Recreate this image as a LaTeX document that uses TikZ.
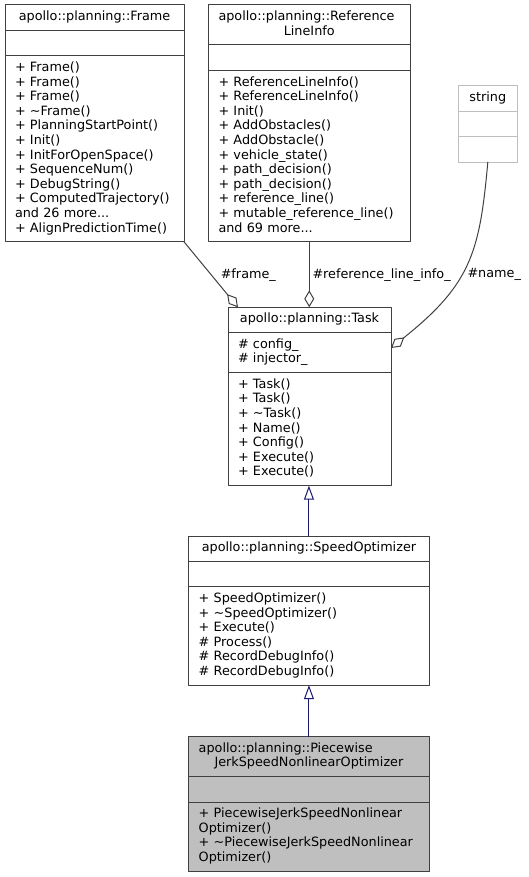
\documentclass[tikz,border=0pt]{standalone}
\usepackage{fontspec}
\setmainfont{DejaVu Sans}
\usetikzlibrary{arrows.meta}
\definecolor{edgegray}{HTML}{404040}
\definecolor{navy}{HTML}{191970}
\definecolor{leafgray}{HTML}{BFBFBF}
\newcommand{\wrapline}[1]{\makebox[\linewidth][l]{#1}}
\begin{document}
\begin{tikzpicture}[line cap=round,line join=round,x=1pt,y=-1pt,
	every node/.style={font=\fontsize{12.8}{14.6}\selectfont},
	cls/.style={draw=edgegray,line width=1pt,fill=white,anchor=north west,outer sep=0pt,
		inner xsep=10pt,inner ysep=0pt,align=left,
		execute at begin node=\strut,execute at end node=\strut},
	ttl/.style={cls,align=center},
	lbl/.style={inner sep=0pt},
	agg/.style={draw=edgegray,line width=1pt,-{Diamond[open,length=17pt,width=10pt]}},
	inh/.style={draw=navy,line width=1pt,-{Triangle[open,length=14pt,width=10pt]}}]
		\useasboundingbox (0,0) rectangle (529,877);
		% Frame
		\node[ttl,text width=159pt,minimum height=25.4pt] (frame) at (5,5) {apollo::planning::Frame};
		\node[cls,text width=159pt,minimum height=25.4pt] (frame-a) at (frame.south west) {};
		\node[cls,text width=159pt,minimum height=186pt] (frame-m) at (frame-a.south west) {+ Frame()\\+ Frame()\\+ Frame()\\+ \textasciitilde Frame()\\+ PlanningStartPoint()\\+ Init()\\+ InitForOpenSpace()\\+ SequenceNum()\\+ DebugString()\\+ ComputedTrajectory()\\and 26 more...\\+ AlignPredictionTime()};
		% ReferenceLineInfo
		\node[ttl,text width=181.5pt,minimum height=40pt] (rli) at (208.5,5) {\wrapline{apollo::planning::Reference}\\LineInfo};
		\node[cls,text width=181.5pt,minimum height=25.4pt] (rli-a) at (rli.south west) {};
		\node[cls,text width=181.5pt,minimum height=171.4pt] (rli-m) at (rli-a.south west) {+ ReferenceLineInfo()\\+ ReferenceLineInfo()\\+ Init()\\+ AddObstacles()\\+ AddObstacle()\\+ vehicle\_state()\\+ path\_decision()\\+ path\_decision()\\+ reference\_line()\\+ mutable\_reference\_line()\\and 69 more...};
		% string
		\node[ttl,draw=leafgray,text width=39pt,minimum height=25.4pt] (str) at (458.3,86) {string};
		\node[cls,draw=leafgray,text width=39pt,minimum height=25.4pt] (str-a) at (str.south west) {};
		\node[cls,draw=leafgray,text width=39pt,minimum height=25.4pt] (str-m) at (str-a.south west) {};
		% Task
		\node[ttl,text width=143pt,minimum height=25.4pt] (task) at (228,307.3) {apollo::planning::Task};
		\node[cls,text width=143pt,minimum height=40pt] (task-a) at (task.south west) {\# config\_\\\# injector\_};
		\node[cls,text width=143pt,minimum height=113pt] (task-m) at (task-a.south west) {+ Task()\\+ Task()\\+ \textasciitilde Task()\\+ Name()\\+ Config()\\+ Execute()\\+ Execute()};
		% SpeedOptimizer
		\node[ttl,text width=220.5pt,minimum height=25.4pt] (spd) at (188.7,536) {apollo::planning::SpeedOptimizer};
		\node[cls,text width=220.5pt,minimum height=25.4pt] (spd-a) at (spd.south west) {};
		\node[cls,text width=220.5pt,minimum height=98.4pt] (spd-m) at (spd-a.south west) {+ SpeedOptimizer()\\+ \textasciitilde SpeedOptimizer()\\+ Execute()\\\# Process()\\\# RecordDebugInfo()\\\# RecordDebugInfo()};
		% PiecewiseJerkSpeedNonlinearOptimizer
		\node[ttl,fill=leafgray,text width=220.5pt,minimum height=40pt] (pjs) at (188.7,736.7) {\wrapline{apollo::planning::Piecewise}\\JerkSpeedNonlinearOptimizer};
		\node[cls,fill=leafgray,text width=220.5pt,minimum height=25.4pt] (pjs-a) at (pjs.south west) {};
		\node[cls,fill=leafgray,text width=220.5pt,minimum height=69.2pt] (pjs-m) at (pjs-a.south west) {+ PiecewiseJerkSpeedNonlinear\\Optimizer()\\+ \textasciitilde PiecewiseJerkSpeedNonlinear\\Optimizer()};
		% edges
		\draw[agg] (frame-m.south east) -- ([xshift=10pt]task.north west);
		\draw[agg] (rli-m.south) -- (rli-m.south |- task.north);
		\draw[agg] (str-m.south) .. controls (479.7,252.3) and (471,284) .. ([yshift=4.7pt]task-a.east);
		\draw[inh] (spd.north) -- (spd.north |- task-m.south);
		\draw[inh] (pjs.north) -- (pjs.north |- spd-m.south);
		\node[lbl] (l-frame) at (248.3,274.7) {\#frame\_};
		\node[lbl,anchor=west] (l-rli) at (312.3,274.7) {\#reference\_line\_info\_};
		\node[lbl,anchor=west] (l-name) at (467.3,274.7) {\#name\_};
\end{tikzpicture}
\end{document}
